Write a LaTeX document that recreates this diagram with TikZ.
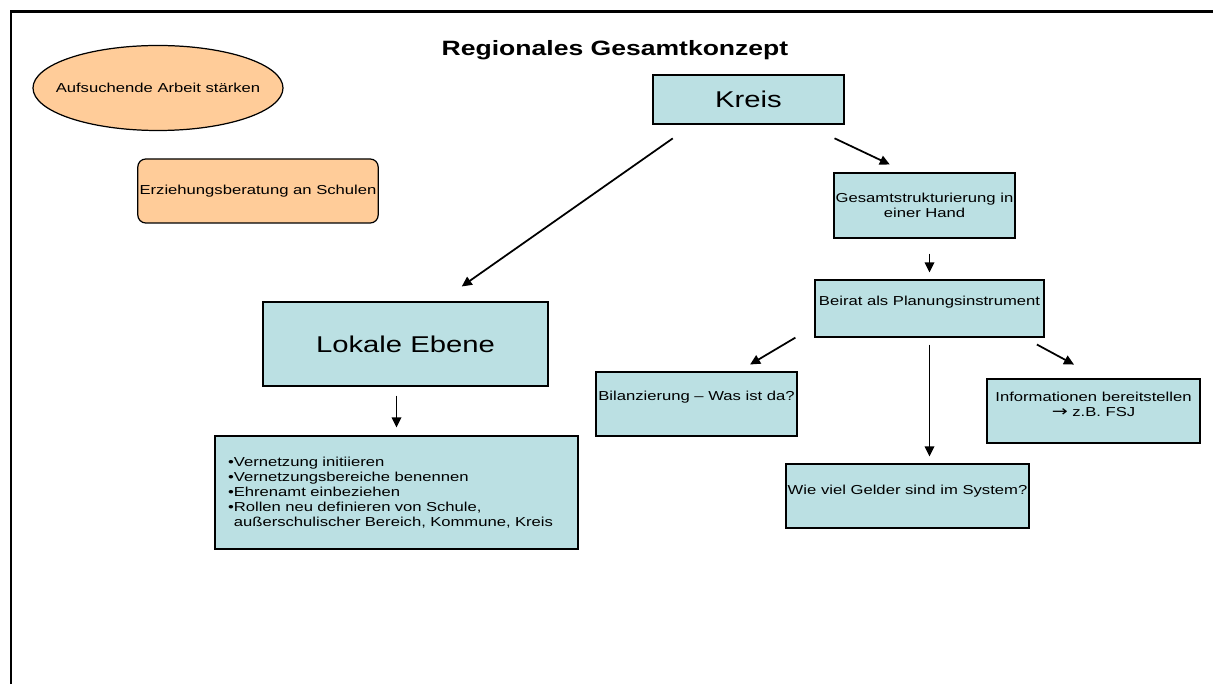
\documentclass[tikz,border=0pt]{standalone}
\usepackage{fontspec}
\setmainfont{Liberation Sans}[FakeStretch=1.28]
\newfontfamily\pfeilfont{DejaVu Sans}[FakeStretch=1.28]
\usetikzlibrary{calc,shapes.geometric,arrows.meta}
\definecolor{boxblue}{RGB}{187,224,227}
\definecolor{boxorange}{RGB}{255,204,153}
\tikzset{
	box/.style={draw, line width=0.7pt, fill=boxblue, inner sep=1pt, align=center, font=\fontsize{7.4}{8.5}\selectfont},
	bigtext/.style={font=\fontsize{13}{15}\selectfont},
	lift/.style={text depth=#1},
	arr/.style={line width=1pt, -{Triangle[length=0.2cm,width=0.19cm]}},
}

\begin{document}
\begin{tikzpicture}
\useasboundingbox (0,0) rectangle (24.26,13.68);
\draw[line width=1.7pt] (0.22,0) -- (0.22,13.44) -- (24.26,13.44);
\node[font=\bfseries\fontsize{11.8}{13}\selectfont] (titel) at (12.3,12.68) {Regionales Gesamtkonzept};

\node[box, ellipse, fill=boxorange, inner sep=0pt, minimum width=5.0cm, minimum height=1.7cm] (aufsuchen) at (3.16,11.92) {\makebox[0pt]{Aufsuchende Arbeit stärken}};
\node[box, fill=boxorange, rounded corners=0.16cm, minimum width=4.8cm, minimum height=1.28cm] (beratung) at (5.16,9.86) {Erziehungsberatung an Schulen};

\node[box, bigtext, minimum width=3.82cm, minimum height=0.98cm] (kreis) at (14.97,11.69) {Kreis};
\node[box, minimum width=3.62cm, minimum height=1.3cm] (gesamt) at (18.49,9.57) {Gesamtstrukturierung in\\einer Hand};
\node[box, lift=0.31cm, minimum width=4.58cm, minimum height=1.14cm] (beirat) at (18.59,7.51) {Beirat als Planungsinstrument};
\node[box, lift=0.33cm, minimum width=4.02cm, minimum height=1.28cm] (bilanz) at (13.93,5.6) {Bilanzierung – Was ist da?};
\node[box, lift=0.25cm, minimum width=4.82cm, minimum height=1.28cm] (gelder) at (18.15,3.76) {Wie viel Gelder sind im System?};
\node[box, lift=0.27cm, minimum width=4.26cm, minimum height=1.28cm] (info) at (21.87,5.46) {Informationen bereitstellen\\{\pfeilfont\fontsize{8.5}{8.5}\selectfont →} z.B. FSJ};

\node[box, bigtext, minimum width=5.7cm, minimum height=1.68cm] (lokal) at (8.11,6.8) {Lokale Ebene};
\node[box, align=left, text width=6.74cm, inner xsep=0.26cm, minimum height=2.26cm] (liste) at (7.93,3.83) {•Vernetzung initiieren\\•Vernetzungsbereiche benennen\\•Ehrenamt einbeziehen\\•Rollen neu definieren von Schule,\\\phantom{•}außerschulischer Bereich, Kommune, Kreis};

\draw[arr, shorten <=0.48cm, shorten >=0.52cm] ([xshift=0.8cm]kreis.south west) -- ([xshift=0.7cm]lokal.north);
\draw[arr, shorten <=0.64cm, shorten >=0.37cm] ([xshift=-0.78cm]kreis.south east) -- ([xshift=-0.36cm]gesamt.north);
\draw[arr, shorten <=0.3cm, shorten >=0.14cm] (gesamt.south -| beirat.center) -- (beirat.north);
\draw[arr, shorten <=0.18cm, shorten >=0.16cm] (lokal.south -| liste.center) -- (liste.north);
\draw[arr, shorten >=0.27cm] ([xshift=-0.38cm]beirat.south west) -- ([xshift=0.84cm]bilanz.north);
\draw[arr, shorten <=0.14cm, shorten >=0.14cm] (beirat.south) -- (beirat.south |- gelder.north);
\draw[arr, shorten <=0.29cm, shorten >=0.58cm] ([xshift=-0.41cm]beirat.south east) -- ([xshift=0.12cm]info.north);
\end{tikzpicture}
\end{document}
